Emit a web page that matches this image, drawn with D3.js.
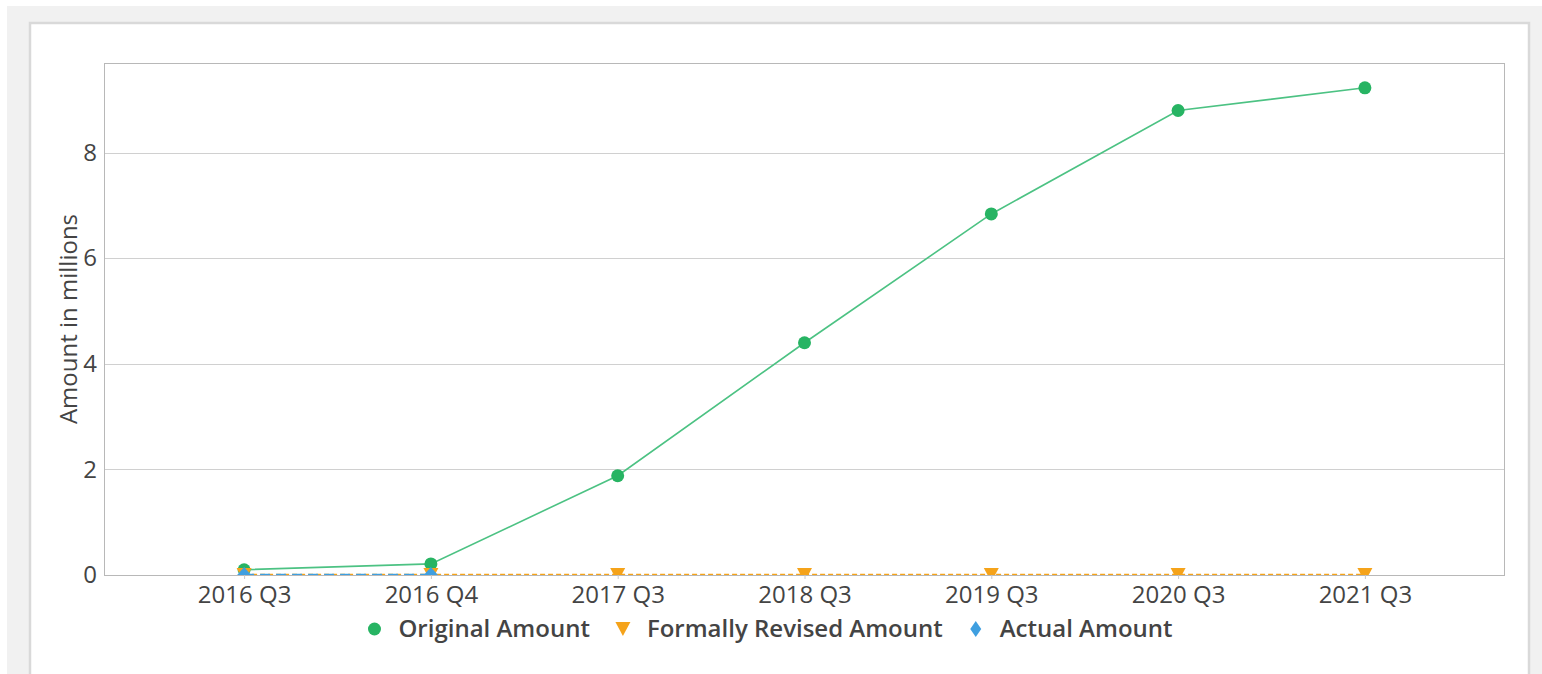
<html>
<head>
<script src="https://cdn.jsdelivr.net/npm/d3@7"></script>
<style>
  body { margin: 0; background: #fff; }
  svg text { font-family: "Open Sans", sans-serif; fill: #444; }
</style>
</head>
<body>
<svg id="chart" width="1542" height="674"></svg>
<script>
// data (amounts in millions)
const quarters = ['2016 Q3', '2016 Q4', '2017 Q3', '2018 Q3', '2019 Q3', '2020 Q3', '2021 Q3'];
const originalAmount = [0.1, 0.21, 1.88, 4.4, 6.84, 8.8, 9.23];
const revisedAmount = [0, 0, 0, 0, 0, 0, 0];
const actualAmount = [0, 0, null, null, null, null, null];
const yTicks = [0, 2, 4, 6, 8];
const seriesNames = ['Original Amount', 'Formally Revised Amount', 'Actual Amount'];

const svg = d3.select('#chart');

// page background and card
svg.append('rect').attr('x', 7).attr('y', 6).attr('width', 1535).attr('height', 668).attr('fill', '#f1f1f1');
svg.append('rect').attr('x', 30).attr('y', 23).attr('width', 1499).attr('height', 660)
  .attr('fill', '#fff').attr('stroke', '#d9d9d9').attr('stroke-width', 2.5);

const pL = 104, pR = 1505, pT = 63, pB = 575;
const fs = '24px';

const x = d3.scalePoint().domain(quarters).range([pL, pR]).padding(0.75);
const y = d3.scaleLinear().domain([0, 9.7]).range([pB, pT]);

// grid
svg.append('g')
  .selectAll('line')
  .data(yTicks.filter(d => d > 0))
  .enter()
  .append('line')
  .attr('x1', pL).attr('x2', pR)
  .attr('y1', d => Math.round(y(d)) + 0.5).attr('y2', d => Math.round(y(d)) + 0.5)
  .attr('stroke', '#d0d0d0').attr('stroke-width', 1);

// plot frame
svg.append('rect').attr('x', pL + 0.5).attr('y', pT + 0.5)
  .attr('width', pR - pL - 1).attr('height', pB - pT)
  .attr('fill', 'none').attr('stroke', '#b8b8b8').attr('stroke-width', 1);

// y axis
const yAxis = svg.append('g')
  .attr('transform', 'translate(' + pL + ',0)')
  .call(d3.axisLeft(y).tickValues(yTicks).tickSize(0).tickPadding(7));
yAxis.select('.domain').remove();
yAxis.selectAll('text').style('font-size', fs).attr('fill', '#444');

// x axis
const xAxis = svg.append('g')
  .attr('transform', 'translate(0,' + pB + ')')
  .call(d3.axisBottom(x).tickSize(4).tickPadding(7));
xAxis.select('.domain').remove();
xAxis.selectAll('line').attr('stroke', '#c8c8c8');
xAxis.selectAll('text').style('font-size', fs).attr('fill', '#444').attr('dy', '0.72em');

svg.append('text')
  .attr('transform', 'translate(77,' + ((pT + pB) / 2) + ') rotate(-90)')
  .attr('text-anchor', 'middle')
  .style('font-size', fs)
  .text('Amount in millions');

// clip
svg.append('clipPath').attr('id', 'plotclip')
  .append('rect').attr('x', pL).attr('y', pT).attr('width', pR - pL).attr('height', pB - pT);

const plot = svg.append('g').attr('clip-path', 'url(#plotclip)');

const colors = ['#27b463', '#f5a31a', '#3f9fe0'];
const line = d3.line().defined(d => d[1] != null).x(d => x(d[0])).y(d => y(d[1]));
const triDown = 'M-7.5,-7L7.5,-7L0,7Z';
const diamond = 'M0,-8L7,0L0,8L-7,0Z';
const diamondLegend = 'M0,-8L5.5,0L0,8L-5.5,0Z';

// original
plot.append('path')
  .attr('d', line(quarters.map((q, i) => [q, originalAmount[i]])))
  .attr('fill', 'none').attr('stroke', '#4cc283').attr('stroke-width', 1.6);
plot.selectAll('.orig')
  .data(quarters.map((q, i) => [q, originalAmount[i]]))
  .enter().append('circle')
  .attr('cx', d => x(d[0])).attr('cy', d => y(d[1])).attr('r', 6.5)
  .attr('fill', colors[0]);

// revised
plot.append('path')
  .attr('d', line(quarters.map((q, i) => [q, revisedAmount[i]])))
  .attr('fill', 'none').attr('stroke', colors[1]).attr('stroke-width', 2.5)
  .attr('stroke-dasharray', '5,3');
plot.selectAll('.rev')
  .data(quarters.map((q, i) => [q, revisedAmount[i]]))
  .enter().append('path')
  .attr('d', triDown)
  .attr('transform', d => 'translate(' + x(d[0]) + ',' + y(d[1]) + ')')
  .attr('fill', colors[1]);

// actual
const actualPts = quarters.map((q, i) => [q, actualAmount[i]]).filter(d => d[1] != null);
plot.append('path')
  .attr('d', line(actualPts))
  .attr('fill', 'none').attr('stroke', colors[2]).attr('stroke-width', 2.5)
  .attr('stroke-dasharray', '10,6');
plot.selectAll('.act')
  .data(actualPts)
  .enter().append('path')
  .attr('d', diamond)
  .attr('transform', d => 'translate(' + x(d[0]) + ',' + y(d[1]) + ')')
  .attr('fill', colors[2]);

// legend
const legend = svg.append('g').attr('transform', 'translate(0,629)');
const items = legend.selectAll('g').data(seriesNames).enter().append('g');
items.append('text')
  .attr('x', 31).attr('dy', '0.35em')
  .style('font-size', fs).style('font-weight', 600)
  .text(d => d);
const widths = [];
items.each(function() { widths.push(this.getBBox().width + 31); });
const gap = 26;
const total = d3.sum(widths) + gap * (widths.length - 1);
let cx = 770 - total / 2;
items.attr('transform', (d, i) => {
  const t = 'translate(' + cx + ',0)';
  cx += widths[i] + gap;
  return t;
});
items.filter((d, i) => i === 0).append('circle').attr('cx', 7).attr('r', 6.5).attr('fill', colors[0]);
items.filter((d, i) => i === 1).append('path')
  .attr('d', triDown).attr('transform', 'translate(7,0)').attr('fill', colors[1]);
items.filter((d, i) => i === 2).append('path')
  .attr('d', diamondLegend).attr('transform', 'translate(7,0)').attr('fill', colors[2]);
</script>
</body>
</html>
